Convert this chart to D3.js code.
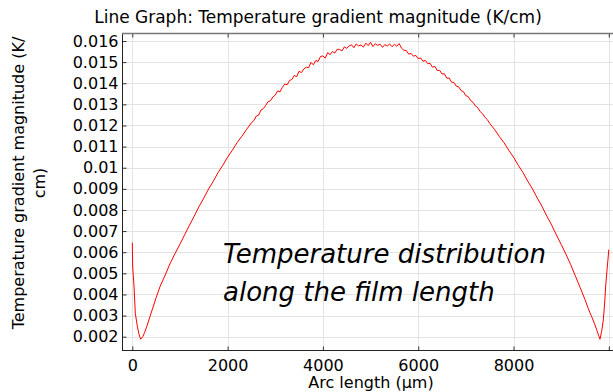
<!DOCTYPE html>
<html>
<head>
<meta charset="utf-8">
<script src="https://cdn.jsdelivr.net/npm/d3@7"></script>
<style>
  html, body { margin: 0; padding: 0; background: #fff; }
  svg { display: block; }
  text { font-family: "DejaVu Sans", sans-serif; fill: #000; }
</style>
</head>
<body>
<svg id="chart" width="613" height="392"></svg>
<script>
// ---- data ----
const arcLength = [
  0, 8, 36, 63, 105, 140, 176, 220, 260, 302, 371, 450, 500, 581, 700, 800, 900,
  1000, 1100, 1200, 1300, 1400, 1500, 1600, 1700, 1800, 1900, 2000, 2100, 2200, 2300, 2400,
  2500, 2550, 2600, 2650, 2700, 2750, 2800, 2850, 2900, 2950, 3000, 3050, 3100, 3150, 3200,
  3250, 3300, 3350, 3400, 3450, 3500, 3550, 3600, 3650, 3700, 3750, 3800, 3850, 3900, 3950,
  4000, 4050, 4100, 4150, 4200, 4250, 4300, 4350, 4400, 4450, 4500, 4550, 4600, 4650, 4700,
  4750, 4800, 4850, 4900, 4950, 5000, 5050, 5100, 5150, 5200, 5250, 5300, 5350, 5400, 5450,
  5500, 5550, 5600, 5650, 5700, 5750, 5800, 5850, 5900, 5950, 6000, 6050, 6100, 6150, 6200,
  6250, 6300, 6350, 6400, 6450, 6500, 6550, 6600, 6650, 6700, 6750, 6800, 6850, 6900, 6950,
  7000, 7050, 7100, 7150, 7200, 7250, 7300, 7350, 7400, 7450, 7500, 7600, 7700, 7800, 7900,
  8000, 8100, 8200, 8300, 8400, 8500, 8600, 8700, 8800, 8900, 9000, 9100, 9200, 9300, 9400,
  9500, 9550, 9600, 9650, 9700, 9750, 9790, 9815, 9850, 9885, 9910, 9935, 9960, 9980, 10000
];
const gradMag = [
  0.00645, 0.00530, 0.00440, 0.00311, 0.00250, 0.00212, 0.00188, 0.00200, 0.00221, 0.00247, 0.00295, 0.00350, 0.00385, 0.00437, 0.00497, 0.00550, 0.00595,
  0.00638, 0.00683, 0.00728, 0.00771, 0.00816, 0.00856, 0.00899, 0.00936, 0.00977, 0.01012, 0.01050, 0.01083, 0.01119, 0.01149, 0.01182,
  0.01213, 0.01223, 0.01244, 0.01249, 0.01273, 0.01280, 0.01295, 0.01313, 0.01317, 0.01335, 0.01344, 0.01364, 0.01359, 0.01381, 0.01396,
  0.01393, 0.01413, 0.01418, 0.01437, 0.01431, 0.01457, 0.01450, 0.01468, 0.01476, 0.01473, 0.01499, 0.01487, 0.01508, 0.01503, 0.01527,
  0.01529, 0.01519, 0.01545, 0.01535, 0.01550, 0.01543, 0.01561, 0.01560, 0.01553, 0.01572, 0.01565, 0.01576, 0.01582, 0.01568, 0.01586,
  0.01577, 0.01581, 0.01571, 0.01590, 0.01578, 0.01594, 0.01574, 0.01587, 0.01579, 0.01585, 0.01570, 0.01583, 0.01576, 0.01586, 0.01573,
  0.01584, 0.01575, 0.01588, 0.01566, 0.01556, 0.01555, 0.01538, 0.01541, 0.01528, 0.01532, 0.01516, 0.01520, 0.01504, 0.01508, 0.01493,
  0.01494, 0.01476, 0.01480, 0.01460, 0.01461, 0.01444, 0.01445, 0.01424, 0.01425, 0.01405, 0.01404, 0.01386, 0.01383, 0.01365, 0.01360,
  0.01341, 0.01337, 0.01318, 0.01310, 0.01293, 0.01284, 0.01266, 0.01256, 0.01239, 0.01228, 0.01210, 0.01182, 0.01149, 0.01119, 0.01083,
  0.01050, 0.01012, 0.00977, 0.00936, 0.00899, 0.00856, 0.00816, 0.00771, 0.00729, 0.00682, 0.00637, 0.00591, 0.00541, 0.00487, 0.00432,
  0.00376, 0.00345, 0.00316, 0.00290, 0.00262, 0.00230, 0.00204, 0.00188, 0.00225, 0.00280, 0.00350, 0.00440, 0.00510, 0.00560, 0.00612
];
const xTickValues = [0, 2000, 4000, 6000, 8000, 10000];
const xTickLabels = ["0", "2000", "4000", "6000", "8000", ""];
const yTickValues = [0.002, 0.003, 0.004, 0.005, 0.006, 0.007, 0.008, 0.009, 0.010, 0.011, 0.012, 0.013, 0.014, 0.015, 0.016];
const yTickLabels = ["0.002", "0.003", "0.004", "0.005", "0.006", "0.007", "0.008", "0.009", "0.01", "0.011", "0.012", "0.013", "0.014", "0.015", "0.016"];
const titleText = "Line Graph: Temperature gradient magnitude (K/cm)";
const yLabelLines = ["Temperature gradient magnitude (K/", "cm)"];
const xLabelText = "Arc length (µm)";
const noteLines = ["Temperature distribution", "along the film length"];

// ---- layout ----
const plotLeft = 122, plotTop = 33, plotBottom = 350, plotRight = 613;
const svg = d3.select("#chart");

const x = d3.scaleLinear().domain([0, 10000]).range([132.3, 608.8]);
const y = d3.scaleLinear().domain([0.002, 0.016]).range([336.7, 41]);

// grid
const grid = svg.append("g").attr("stroke", "#e3e3e3").attr("stroke-width", 1).attr("shape-rendering", "crispEdges");
grid.selectAll("line.gx").data(xTickValues).join("line")
  .attr("x1", d => Math.round(x(d)) + 0.5).attr("x2", d => Math.round(x(d)) + 0.5)
  .attr("y1", plotTop).attr("y2", plotBottom);
grid.selectAll("line.gy").data(yTickValues).join("line")
  .attr("y1", d => Math.round(y(d)) + 0.5).attr("y2", d => Math.round(y(d)) + 0.5)
  .attr("x1", plotLeft).attr("x2", plotRight);

// curve
const line = d3.line().x((d, i) => x(arcLength[i])).y(d => y(d));
svg.append("path").datum(gradMag)
  .attr("fill", "none").attr("stroke", "#ff0000").attr("stroke-width", 1)
  .attr("d", line);

// axes
const fs = 16;
const yAxis = d3.axisLeft(y).tickValues(yTickValues).tickSize(-4).tickPadding(4)
  .tickFormat((d, i) => yTickLabels[i]);
const gy = svg.append("g").attr("transform", `translate(${plotLeft + 0.5},0)`).call(yAxis);
const xAxis = d3.axisBottom(x).tickValues(xTickValues).tickSize(-4).tickPadding(9)
  .tickFormat((d, i) => xTickLabels[i]);
const gx = svg.append("g").attr("transform", `translate(0,${plotBottom + 0.5})`).call(xAxis);
const xTop = d3.axisTop(x).tickValues(xTickValues).tickSize(-4).tickFormat("");
const gt = svg.append("g").attr("transform", `translate(0,${plotTop + 0.5})`).call(xTop);
[gy, gx, gt].forEach(g => {
  g.select(".domain").remove();
  g.selectAll("text").attr("font-size", fs).attr("font-family", "DejaVu Sans").attr("fill", "#000");
  g.selectAll(".tick line").attr("stroke", "#333");
});
svg.append("line").attr("x1", plotLeft + 0.5).attr("x2", plotLeft + 0.5).attr("y1", plotTop).attr("y2", plotBottom + 1).attr("stroke", "#222");
svg.append("line").attr("x1", plotLeft).attr("x2", plotRight).attr("y1", plotBottom + 0.5).attr("y2", plotBottom + 0.5).attr("stroke", "#222");
svg.append("line").attr("x1", plotLeft).attr("x2", plotRight).attr("y1", plotTop + 0.5).attr("y2", plotTop + 0.5).attr("stroke", "#777").attr("stroke-width", 1.5);

// title
svg.append("text").attr("x", 318).attr("y", 23).attr("text-anchor", "middle")
  .attr("font-size", 17).text(titleText);

// y label (two lines)
const yl = svg.append("text").attr("transform", "translate(18,183) rotate(-90)")
  .attr("text-anchor", "middle").attr("font-size", 16);
yl.append("tspan").attr("x", 0).attr("y", 6).text(yLabelLines[0]);
yl.append("tspan").attr("x", 0).attr("y", 27).text(yLabelLines[1]);

// x label
svg.append("text").attr("x", 371).attr("y", 388).attr("text-anchor", "middle")
  .attr("font-size", 16).text(xLabelText);

// annotation
const note = svg.append("text").attr("font-family", "Open Sans").attr("font-style", "italic")
  .attr("font-size", 26);
note.append("tspan").attr("x", 223).attr("y", 263).text(noteLines[0]);
note.append("tspan").attr("x", 223).attr("y", 301).text(noteLines[1]);
</script>
</body>
</html>
